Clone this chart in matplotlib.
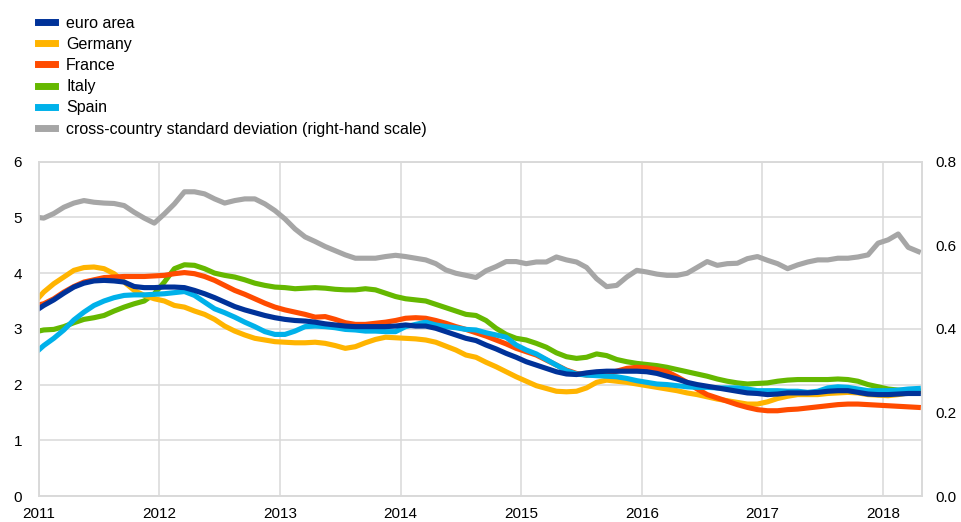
import numpy as np
import matplotlib
matplotlib.use('Agg')
import matplotlib.pyplot as plt
from matplotlib.lines import Line2D

plt.rcParams['font.family'] = ['Liberation Sans', 'DejaVu Sans']

# monthly data, Dec 2010 to Apr 2018 (percentages)
euro_area = [3.30,
             3.42, 3.52, 3.64, 3.75, 3.82, 3.86, 3.87, 3.86, 3.84, 3.76, 3.74, 3.74,
             3.75, 3.75, 3.74, 3.69, 3.63, 3.56, 3.48, 3.40, 3.34, 3.29, 3.24, 3.20,
             3.17, 3.15, 3.14, 3.12, 3.09, 3.07, 3.05, 3.04, 3.04, 3.04, 3.04, 3.05,
             3.07, 3.05, 3.05, 3.01, 2.95, 2.89, 2.83, 2.79, 2.71, 2.64, 2.56, 2.49,
             2.41, 2.35, 2.29, 2.23, 2.19, 2.18, 2.21, 2.23, 2.24, 2.24, 2.24, 2.24,
             2.23, 2.20, 2.15, 2.10, 2.04, 2.00, 1.97, 1.94, 1.91, 1.88, 1.85, 1.84,
             1.82, 1.83, 1.85, 1.85, 1.85, 1.86, 1.88, 1.89, 1.89, 1.86, 1.83, 1.82,
             1.82, 1.83, 1.84, 1.84]
germany = [3.46,
           3.66, 3.81, 3.93, 4.05, 4.10, 4.11, 4.08, 3.99, 3.84, 3.69, 3.60, 3.54,
           3.50, 3.42, 3.39, 3.32, 3.26, 3.17, 3.05, 2.96, 2.89, 2.83, 2.80, 2.77,
           2.76, 2.75, 2.75, 2.76, 2.74, 2.70, 2.65, 2.68, 2.75, 2.81, 2.85, 2.84,
           2.83, 2.82, 2.80, 2.76, 2.69, 2.62, 2.53, 2.49, 2.40, 2.32, 2.23, 2.14,
           2.06, 1.98, 1.93, 1.88, 1.87, 1.88, 1.94, 2.04, 2.08, 2.06, 2.04, 2.01,
           1.98, 1.95, 1.92, 1.89, 1.85, 1.82, 1.78, 1.74, 1.71, 1.68, 1.65, 1.65,
           1.69, 1.75, 1.79, 1.82, 1.82, 1.82, 1.84, 1.85, 1.86, 1.85, 1.82, 1.81,
           1.80, 1.82, 1.85, 1.88]
france = [3.41,
          3.45, 3.54, 3.66, 3.76, 3.84, 3.88, 3.92, 3.93, 3.94, 3.94, 3.94, 3.95,
          3.96, 3.99, 4.01, 3.99, 3.94, 3.87, 3.78, 3.69, 3.62, 3.54, 3.46, 3.39,
          3.34, 3.30, 3.26, 3.21, 3.22, 3.17, 3.11, 3.08, 3.08, 3.10, 3.12, 3.15,
          3.19, 3.20, 3.19, 3.15, 3.10, 3.04, 2.99, 2.93, 2.87, 2.80, 2.73, 2.65,
          2.59, 2.53, 2.44, 2.35, 2.26, 2.20, 2.17, 2.18, 2.20, 2.24, 2.29, 2.31,
          2.30, 2.27, 2.23, 2.14, 2.04, 1.92, 1.82, 1.76, 1.70, 1.64, 1.59, 1.55,
          1.53, 1.53, 1.55, 1.56, 1.58, 1.60, 1.62, 1.64, 1.65, 1.65, 1.64, 1.63,
          1.62, 1.61, 1.60, 1.59]
italy = [2.94,
         2.98, 2.99, 3.04, 3.11, 3.17, 3.20, 3.24, 3.32, 3.39, 3.45, 3.50, 3.63,
         3.84, 4.08, 4.15, 4.14, 4.08, 4.00, 3.96, 3.93, 3.88, 3.82, 3.78, 3.75,
         3.74, 3.72, 3.73, 3.74, 3.73, 3.71, 3.70, 3.70, 3.72, 3.70, 3.64, 3.58,
         3.54, 3.52, 3.50, 3.44, 3.38, 3.32, 3.26, 3.24, 3.15, 3.01, 2.90, 2.83,
         2.80, 2.74, 2.67, 2.57, 2.50, 2.47, 2.49, 2.55, 2.52, 2.45, 2.41, 2.38,
         2.36, 2.34, 2.31, 2.27, 2.23, 2.19, 2.15, 2.10, 2.06, 2.03, 2.01, 2.02,
         2.03, 2.06, 2.08, 2.09, 2.09, 2.09, 2.09, 2.10, 2.09, 2.06, 2.00, 1.96,
         1.92, 1.90, 1.89, 1.88]
spain = [2.54,
         2.70, 2.83, 2.98, 3.16, 3.30, 3.42, 3.50, 3.56, 3.60, 3.61, 3.61, 3.62,
         3.63, 3.65, 3.67, 3.60, 3.48, 3.36, 3.29, 3.21, 3.12, 3.04, 2.95, 2.90,
         2.90, 2.96, 3.04, 3.05, 3.04, 3.02, 2.99, 2.98, 2.96, 2.96, 2.95, 2.95,
         3.04, 3.08, 3.12, 3.07, 3.04, 3.02, 2.99, 2.98, 2.93, 2.89, 2.85, 2.71,
         2.62, 2.55, 2.45, 2.35, 2.25, 2.19, 2.17, 2.16, 2.15, 2.14, 2.11, 2.07,
         2.04, 2.01, 2.00, 1.98, 1.96, 1.95, 1.95, 1.94, 1.94, 1.94, 1.92, 1.89,
         1.89, 1.89, 1.88, 1.88, 1.86, 1.88, 1.94, 1.96, 1.95, 1.92, 1.89, 1.89,
         1.89, 1.90, 1.92, 1.93]
# cross-country standard deviation (right-hand scale)
std_dev = [0.668,
           0.665, 0.676, 0.691, 0.701, 0.707, 0.703, 0.701, 0.700, 0.695, 0.679, 0.665, 0.653,
           0.675, 0.699, 0.728, 0.728, 0.723, 0.711, 0.701, 0.707, 0.711, 0.711, 0.699, 0.683,
           0.663, 0.639, 0.620, 0.609, 0.597, 0.587, 0.577, 0.569, 0.569, 0.569, 0.573, 0.576,
           0.573, 0.569, 0.565, 0.556, 0.541, 0.533, 0.528, 0.523, 0.539, 0.549, 0.561, 0.561,
           0.556, 0.560, 0.560, 0.572, 0.565, 0.560, 0.547, 0.520, 0.501, 0.504, 0.524, 0.540,
           0.536, 0.531, 0.528, 0.528, 0.533, 0.547, 0.561, 0.552, 0.556, 0.557, 0.568, 0.573,
           0.564, 0.556, 0.544, 0.553, 0.560, 0.565, 0.565, 0.569, 0.569, 0.572, 0.577, 0.605,
           0.613, 0.627, 0.595, 0.585]

years = [2011, 2012, 2013, 2014, 2015, 2016, 2017, 2018]

# mid-month positions, first point is Dec 2010
x = 2011 + (np.arange(len(euro_area)) - 0.5) / 12

fig = plt.figure(figsize=(9.62, 5.22), dpi=100)
ax = fig.add_axes([38.7 / 962, 26 / 522, (921.7 - 38.7) / 962, (496 - 161.7) / 522])
ax2 = ax.twinx()

lw = 3.7
ax.plot(x, euro_area, color='#003299', lw=lw, label='euro area', zorder=6)
ax.plot(x, germany, color='#FFB400', lw=lw, label='Germany', zorder=3)
ax.plot(x, france, color='#FF4B00', lw=lw, label='France', zorder=4)
ax.plot(x, italy, color='#65B800', lw=lw, label='Italy', zorder=2)
ax.plot(x, spain, color='#00B1EA', lw=lw, label='Spain', zorder=5)
ax2.plot(x, std_dev, color='#A6A6A6', lw=lw)

ax.set_xlim(2011, 2018.32)
ax.set_ylim(0, 6)
ax2.set_ylim(0, 0.8)
ax.set_xticks(years)
ax.set_xticklabels([str(y) for y in years])
ax.set_yticks(range(7))
ax2.set_yticks([0, 0.2, 0.4, 0.6, 0.8])
ax2.set_yticklabels(['0.0', '0.2', '0.4', '0.6', '0.8'])

ax.grid(True, color='#D9D9D9', lw=1.1)
ax.set_axisbelow(True)
for a in (ax, ax2):
    for s in a.spines.values():
        s.set_color('#D9D9D9')
        s.set_linewidth(1.1)
    a.tick_params(length=0, labelsize=11, colors='#000000')
ax.tick_params(axis='x', pad=8)
ax.tick_params(axis='y', pad=12)
ax2.tick_params(axis='y', pad=10)

handles = [Line2D([], [], color=c, lw=5) for c in
           ['#003299', '#FFB400', '#FF4B00', '#65B800', '#00B1EA', '#A6A6A6']]
labels = ['euro area', 'Germany', 'France', 'Italy', 'Spain',
          'cross-country standard deviation (right-hand scale)']
fig.legend(handles, labels, loc='upper left', bbox_to_anchor=(38 / 962, 1 - 15.5 / 522),
           frameon=False, fontsize=11.5, handlelength=1.06, handletextpad=0.7,
           labelspacing=0.39, borderpad=0, borderaxespad=0)

fig.savefig('out.png', dpi=100)
